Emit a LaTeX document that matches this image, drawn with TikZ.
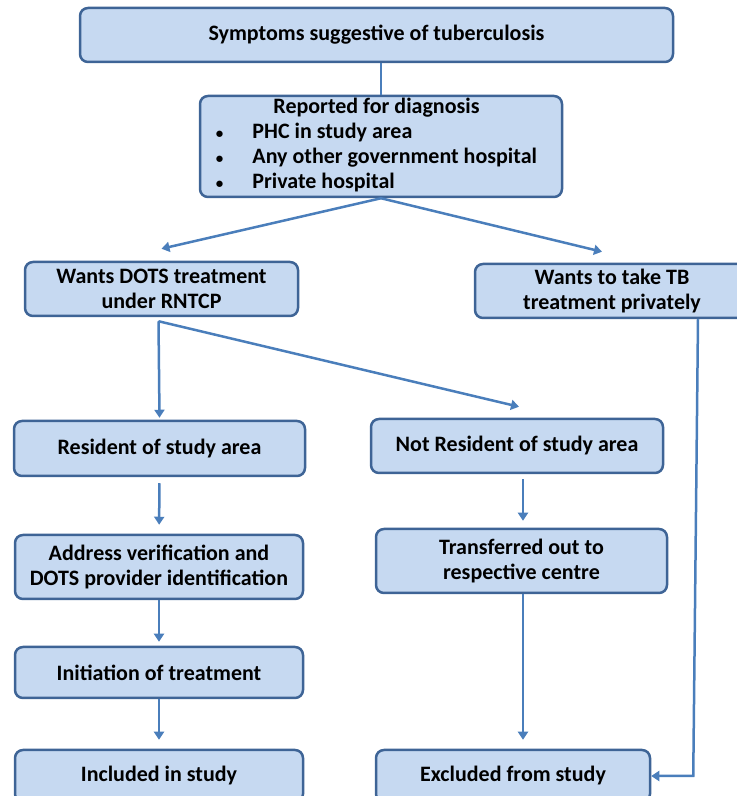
\documentclass[tikz,border=0pt]{standalone}
\usepackage{fontspec}
\setmainfont{Carlito}
\usetikzlibrary{arrows.meta}
\definecolor{boxfill}{RGB}{198,217,241}
\definecolor{boxline}{RGB}{62,100,150}
\definecolor{arrline}{RGB}{74,126,187}
\newcommand{\smallbul}{{\fontsize{15}{15}\selectfont •}}

\begin{document}
\begin{tikzpicture}[x=1pt,y=1pt,>={Triangle[length=8pt,width=10pt]},
   box/.style={draw=boxline,fill=boxfill,line width=2.5pt,rounded corners=8pt,align=center,
               inner sep=0pt,font=\fontsize{22}{25}\selectfont\bfseries},
   arr/.style={->,draw=arrline,line width=2.5pt},
   link/.style={draw=arrline,line width=2.5pt}]

   \useasboundingbox (0,0) rectangle (737,796);

   % Nodes
      \node[box,minimum width=593pt,minimum height=54pt]  (symp)  at (376.5,761)  {Symptoms suggestive of tuberculosis};
      \node[box,minimum width=362pt,minimum height=101pt] (rep)   at (381,649.5)  {\raisebox{-3pt}{\begin{tabular}{@{}l@{\hspace{29pt}}l@{}}
                                                                                    \multicolumn{2}{@{}c@{}}{Reported for diagnosis}\\
                                                                                    \smallbul & PHC in study area\\
                                                                                    \smallbul & Any other government hospital\\
                                                                                    \smallbul & Private hospital\end{tabular}}\hspace{9pt}};
      \node[box,minimum width=273pt,minimum height=54pt]  (dots)  at (161.5,507)  {Wants DOTS treatment\\under RNTCP};
      \node[box,minimum width=274pt,minimum height=54pt]  (tb)    at (612,505)    {Wants to take TB\\treatment privately};
      \node[box,minimum width=291pt,minimum height=55pt]  (res)   at (159.5,347.5) {Resident of study area};
      \node[box,minimum width=292pt,minimum height=54pt]  (nres)  at (517,350)    {Not Resident of study area};
      \node[box,minimum width=288pt,minimum height=64pt]  (addr)  at (159,229)    {Address verification and\\DOTS provider identification};
      \node[box,minimum width=291pt,minimum height=64pt]  (trans) at (521.5,235)  {Transferred out to\\respective centre};
      \node[box,minimum width=288pt,minimum height=51pt]  (init)  at (159,123.5)  {Initiation of treatment};
      \node[box,minimum width=288pt,minimum height=52pt]  (incl)  at (159,20)     {Included in study};
      \node[box,minimum width=274pt,minimum height=52pt]  (excl)  at (513,20)     {Excluded from study};

   % Free ends
      \coordinate (dotsin)  at ([yshift=12pt]dots.north);
      \coordinate (tbin)    at ([shift={(-10pt,11pt)}]tb.north);
      \coordinate (dotsout) at ([shift={(-3pt,-4pt)}]dots.south);
      \coordinate (nresin)  at ([shift={(2pt,11pt)}]nres.north);
      \coordinate (turn)    at ([xshift=42pt]excl.east);

   % Paths
      \draw[link] (symp.south -| rep.north) -- (rep.north);
      \path (rep.south) edge[arr] (dotsin)
                        edge[arr] (tbin);
      \path (dotsout) edge[arr] ([yshift=2pt]res.north)
                      edge[arr] (nresin);
      \draw[arr,shorten <=6pt,shorten >=9pt] (res) -- (addr);
      \draw[arr,shorten >=4pt] (addr) -- (init);
      \draw[arr,shorten >=9pt] (init) -- (incl);
      \draw[arr] ([shift={(1.5pt,-5pt)}]nres.south -| trans.north) -- ([shift={(1.5pt,7pt)}]trans.north);
      \draw[arr] ([xshift=1.5pt]trans.south) -- ([shift={(1.5pt,9pt)}]trans.south |- excl.north);
      \draw[arr] ([xshift=86pt]tb.south) -- (turn) -- (excl.east);
   \end{tikzpicture}
\end{document}
